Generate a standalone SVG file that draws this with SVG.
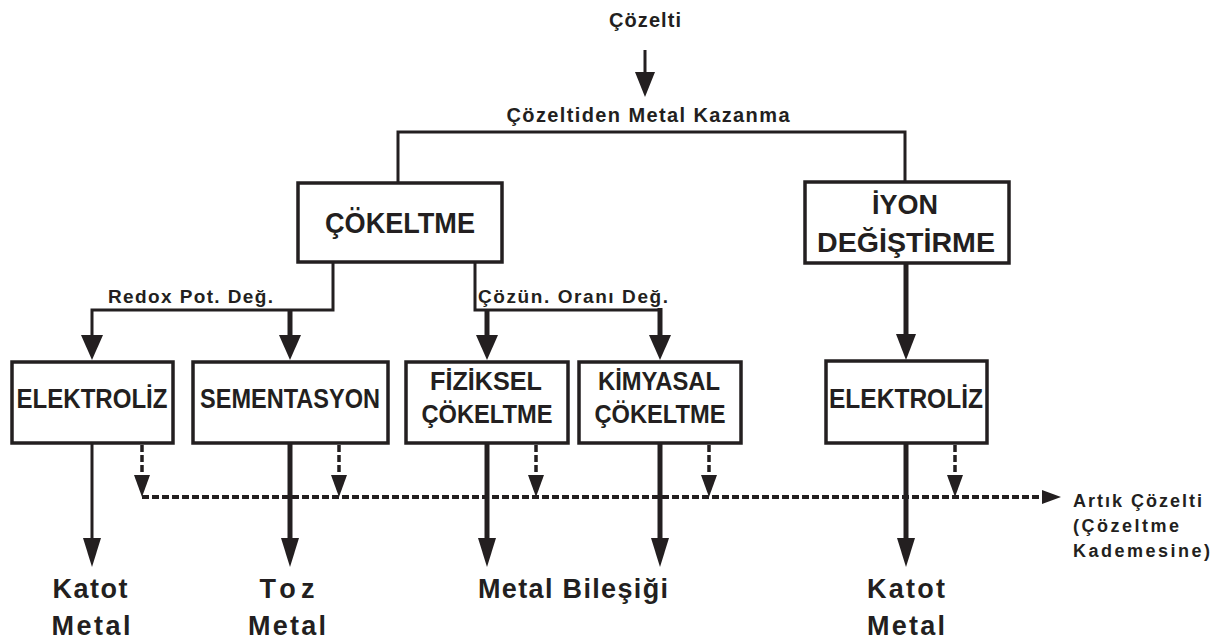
<svg xmlns="http://www.w3.org/2000/svg" width="1217" height="640" viewBox="0 0 1217 640">
<style>
text{font-family:"Liberation Sans",Arial,sans-serif;font-weight:bold;fill:#231f20}
.m{text-anchor:middle}
.box{fill:#fff;stroke:#231f20;stroke-width:3.5}
.ln{fill:none;stroke:#231f20;stroke-width:3}
.thk{fill:none;stroke:#231f20;stroke-width:5}
.dsh{fill:none;stroke:#231f20;stroke-width:3.5;stroke-dasharray:7 3}
.ah{fill:#231f20}
.bx{font-size:27px}
.lbl{font-size:19px}
.out{font-size:27px}
.side{font-size:18px}
</style>
<rect width="1217" height="640" fill="#fff"/>
<g id="connectors">
  <line class="ln" x1="645" y1="50" x2="645" y2="74"/>
  <polygon class="ah" points="635,72 655,72 645,97"/>
  <polyline class="ln" points="398,183 398,132 905,132 905,182"/>
  <polyline class="ln" points="333,262 333,310 92,310 92,336"/>
  <line class="thk" x1="290" y1="310" x2="290" y2="336"/>
  <polygon class="ah" points="81,335 103,335 92,360"/>
  <polygon class="ah" points="279,335 301,335 290,360"/>
  <polyline class="ln" points="475,262 475,310 660,310"/>
  <line class="thk" x1="487" y1="310" x2="487" y2="336"/>
  <line class="thk" x1="660" y1="308" x2="660" y2="336"/>
  <polygon class="ah" points="476,335 498,335 487,360"/>
  <polygon class="ah" points="649,335 671,335 660,360"/>
  <line class="thk" x1="906" y1="263" x2="906" y2="336"/>
  <polygon class="ah" points="896,334 916,334 906,360"/>
  <line class="ln" x1="92" y1="443" x2="92" y2="540"/>
  <line class="thk" x1="290" y1="443" x2="290" y2="540"/>
  <line class="thk" x1="487" y1="443" x2="487" y2="540"/>
  <line class="thk" x1="660" y1="443" x2="660" y2="540"/>
  <line class="thk" x1="906" y1="443" x2="906" y2="540"/>
  <polygon class="ah" points="83,538 101,538 92,567"/>
  <polygon class="ah" points="281,538 299,538 290,567"/>
  <polygon class="ah" points="478,538 496,538 487,567"/>
  <polygon class="ah" points="651,538 669,538 660,567"/>
  <polygon class="ah" points="897,538 915,538 906,567"/>
  <line class="dsh" x1="142" y1="445" x2="142" y2="478"/>
  <line class="dsh" x1="339" y1="445" x2="339" y2="478"/>
  <line class="dsh" x1="536" y1="445" x2="536" y2="478"/>
  <line class="dsh" x1="709" y1="445" x2="709" y2="478"/>
  <line class="dsh" x1="955" y1="445" x2="955" y2="478"/>
  <polygon class="ah" points="134,475 150,475 142,497"/>
  <polygon class="ah" points="331,475 347,475 339,497"/>
  <polygon class="ah" points="528,475 544,475 536,497"/>
  <polygon class="ah" points="701,475 717,475 709,497"/>
  <polygon class="ah" points="947,475 963,475 955,497"/>
  <line class="dsh" x1="142" y1="497" x2="1044" y2="497" style="stroke-width:4"/>
  <polygon class="ah" points="1042,490 1042,504 1061,497"/>
</g>
<g id="n-cozelti"><text class="m" x="645" y="27" font-size="20" textLength="72">Çözelti</text></g>
<g id="n-kazanma"><text class="m" x="648" y="122" font-size="20" textLength="283">Çözeltiden Metal Kazanma</text></g>
<g id="n-cokeltme">
  <rect class="box" x="298" y="183" width="204" height="79"/>
  <text class="m" x="400" y="233" font-size="29" textLength="150" lengthAdjust="spacingAndGlyphs">ÇÖKELTME</text>
</g>
<g id="n-iyon">
  <rect class="box" x="805" y="182" width="204" height="81"/>
  <text class="m" x="905" y="214" font-size="27" textLength="66">İYON</text>
  <text class="m" x="906" y="252" font-size="28" textLength="178" lengthAdjust="spacingAndGlyphs">DEĞİŞTİRME</text>
</g>
<g id="l-redox"><text class="lbl" x="108" y="303" textLength="165">Redox Pot. Değ.</text></g>
<g id="l-cozun"><text class="lbl" x="478" y="303" textLength="190">Çözün. Oranı Değ.</text></g>
<g id="n-elektroliz1">
  <rect class="box" x="12" y="362" width="161" height="81"/>
  <text class="m bx" x="92" y="408" textLength="151" lengthAdjust="spacingAndGlyphs">ELEKTROLİZ</text>
</g>
<g id="n-sementasyon">
  <rect class="box" x="193" y="362" width="195" height="81"/>
  <text class="m bx" x="290" y="408" textLength="180" lengthAdjust="spacingAndGlyphs">SEMENTASYON</text>
</g>
<g id="n-fiziksel">
  <rect class="box" x="406" y="362" width="162" height="81"/>
  <text class="m" x="486" y="390" font-size="25" textLength="112" lengthAdjust="spacingAndGlyphs">FİZİKSEL</text>
  <text class="m" x="487" y="423" font-size="26" textLength="131" lengthAdjust="spacingAndGlyphs">ÇÖKELTME</text>
</g>
<g id="n-kimyasal">
  <rect class="box" x="579" y="362" width="162" height="81"/>
  <text class="m" x="659" y="390" font-size="25" textLength="122" lengthAdjust="spacingAndGlyphs">KİMYASAL</text>
  <text class="m" x="660" y="423" font-size="26" textLength="131" lengthAdjust="spacingAndGlyphs">ÇÖKELTME</text>
</g>
<g id="n-elektroliz2">
  <rect class="box" x="826" y="361" width="161" height="82"/>
  <text class="m bx" x="906" y="408" textLength="154" lengthAdjust="spacingAndGlyphs">ELEKTROLİZ</text>
</g>
<g id="o-artik">
  <text class="side" x="1073" y="507" textLength="129">Artık Çözelti</text>
  <text class="side" x="1073" y="532" textLength="106">(Çözeltme</text>
  <text class="side" x="1073" y="557" textLength="137">Kademesine)</text>
</g>
<g id="o-katot1">
  <text class="m out" x="90" y="598" textLength="75">Katot</text>
  <text class="m out" x="91" y="635" textLength="79">Metal</text>
</g>
<g id="o-toz">
  <text class="m out" x="287" y="598" textLength="55">Toz</text>
  <text class="m out" x="287" y="635" textLength="78">Metal</text>
</g>
<g id="o-bilesik"><text class="out" x="478" y="598" textLength="190">Metal Bileşiği</text></g>
<g id="o-katot2">
  <text class="m out" x="906" y="598" textLength="78">Katot</text>
  <text class="m out" x="906" y="635" textLength="78">Metal</text>
</g>
</svg>
